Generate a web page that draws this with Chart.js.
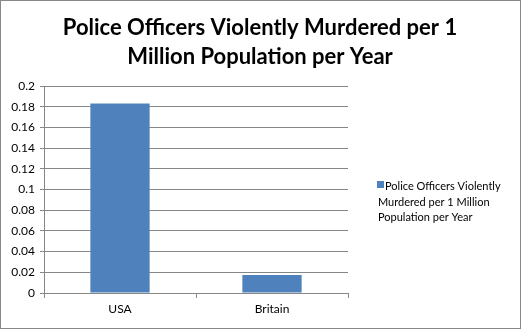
<!DOCTYPE html>
<html>
<head>
<meta charset="utf-8">
<script src="https://cdn.jsdelivr.net/npm/chart.js@4/dist/chart.umd.min.js"></script>
<style>
html,body{margin:0;padding:0;background:#fff;}
#wrap{width:521px;height:329px;position:relative;}
</style>
</head>
<body>
<div id="wrap"><canvas id="c" width="521" height="329"></canvas></div>
<script>
const categories = ['USA', 'Britain'];
const seriesName = 'Police Officers Violently Murdered per 1 Million Population per Year';
const values = [0.183, 0.0175];
const yTicks = [0, 0.02, 0.04, 0.06, 0.08, 0.1, 0.12, 0.14, 0.16, 0.18, 0.2];
const titleLines = ['Police Officers Violently Murdered per 1', 'Million Population per Year'];
const legendLines = ['Police Officers Violently', 'Murdered per 1 Million', 'Population per Year'];

const FONT = 'Lato, "Open Sans", "Liberation Sans", sans-serif';
const GRID = '#868686';
const BAR = '#4F81BD';

const borderPlugin = {
  id: 'frame',
  afterDraw(chart) {
    const ctx = chart.ctx;
    ctx.save();
    ctx.strokeStyle = '#888888';
    ctx.lineWidth = 1;
    ctx.strokeRect(0.5, 0.5, chart.width - 1, chart.height - 1);
    ctx.restore();
  }
};

const titlePlugin = {
  id: 'wideTitle',
  afterDraw(chart) {
    const ctx = chart.ctx;
    ctx.save();
    ctx.fillStyle = '#000';
    ctx.font = 'bold 22px ' + FONT;
    ctx.textAlign = 'center';
    ctx.textBaseline = 'alphabetic';
    titleLines.forEach((t, i) => ctx.fillText(t, 260, 35 + i * 28.5));
    ctx.restore();
  }
};

const legendPlugin = {
  id: 'wrapLegend',
  afterDraw(chart) {
    const ctx = chart.ctx;
    const ds = chart.data.datasets[0];
    ctx.save();
    ctx.fillStyle = ds.backgroundColor;
    ctx.fillRect(377, 181, 7, 7);
    ctx.fillStyle = '#000';
    ctx.font = '11px ' + FONT;
    ctx.textBaseline = 'alphabetic';
    ctx.textAlign = 'left';
    const x0 = 378, y0 = 190, lh = 15.5;
    legendLines.forEach((t, i) => {
      ctx.fillText(t, i === 0 ? 385 : x0, y0 + i * lh);
    });
    ctx.restore();
  }
};

new Chart(document.getElementById('c'), {
  type: 'bar',
  data: {
    labels: categories,
    datasets: [{
      label: seriesName,
      data: values,
      backgroundColor: BAR,
      borderWidth: 0,
      barPercentage: 0.39,
      categoryPercentage: 1.0
    }]
  },
  options: {
    responsive: false,
    animation: false,
    devicePixelRatio: 1,
    layout: { padding: { left: 0, right: 173, top: 86, bottom: 0 } },
    plugins: {
      legend: { display: false },
      tooltip: { enabled: false },
      title: { display: false }
    },
    scales: {
      x: {
        offset: true,
        grid: {
          offset: true,
          drawOnChartArea: false,
          drawTicks: true,
          tickLength: 5,
          color: GRID
        },
        border: { display: true, color: GRID },
        ticks: { color: '#000', font: { family: FONT, size: 12 }, padding: 4 },
        afterFit(s) { s.height = 36; }
      },
      y: {
        min: 0,
        max: 0.2,
        afterBuildTicks(s) { s.ticks = yTicks.map(v => ({ value: v })); },
        grid: { color: GRID, tickLength: 4, drawTicks: true },
        border: { display: true, color: GRID },
        ticks: {
          color: '#000',
          font: { family: FONT, size: 12 },
          padding: 5,
          callback: (v) => String(+v.toFixed(2))
        },
        afterFit(s) { s.width = 44; }
      }
    }
  },
  plugins: [borderPlugin, titlePlugin, legendPlugin]
});
</script>
</body>
</html>
